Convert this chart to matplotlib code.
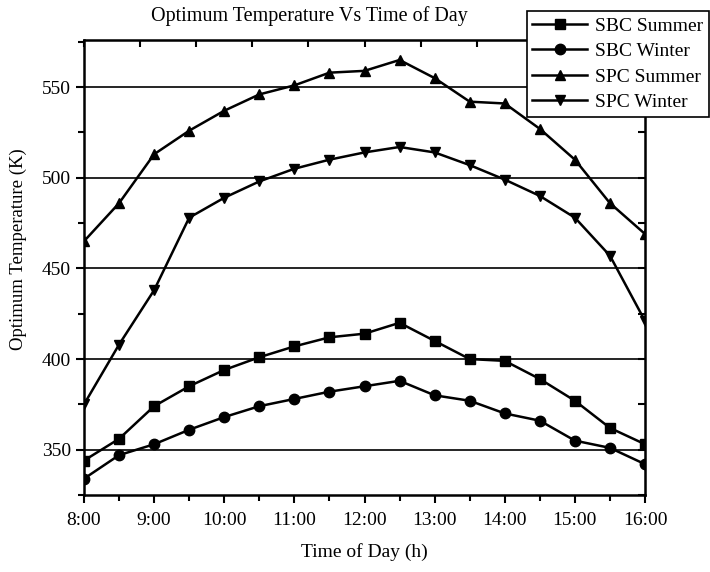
import numpy as np
import matplotlib
matplotlib.use('Agg')
import matplotlib.pyplot as plt
from matplotlib.ticker import MultipleLocator, NullFormatter

plt.rcParams['font.family'] = ['Liberation Serif', 'DejaVu Serif']

# Dados
horas = [8.0, 8.5, 9.0, 9.5, 10.0, 10.5, 11.0, 11.5, 12.0, 12.5,
         13.0, 13.5, 14.0, 14.5, 15.0, 15.5, 16.0]
rotulos_x = ['8:00', '9:00', '10:00', '11:00', '12:00', '13:00', '14:00', '15:00', '16:00']

sbc_verao = [344, 356, 374, 385, 394, 401, 407, 412, 414, 420,
             410, 400, 399, 389, 377, 362, 353]
sbc_inverno = [334, 347, 353, 361, 368, 374, 378, 382, 385, 388,
               380, 377, 370, 366, 355, 351, 342]
spc_verao = [465, 486, 513, 526, 537, 546, 551, 558, 559, 565,
             555, 542, 541, 527, 510, 486, 469]
spc_inverno = [375, 408, 438, 478, 489, 498, 505, 510, 514, 517,
               514, 507, 499, 490, 478, 457, 421]

fig = plt.figure(figsize=(7.1, 5.72), dpi=100)
ax = fig.add_axes([0.1183, 0.1346, 0.7902, 0.7954])

estilo = dict(color='black', linewidth=1.8, markersize=7.5)
ax.plot(horas, sbc_verao, marker='s', label='SBC Summer', **estilo)
ax.plot(horas, sbc_inverno, marker='o', label='SBC Winter', **estilo)
ax.plot(horas, spc_verao, marker='^', label='SPC Summer', **estilo)
ax.plot(horas, spc_inverno, marker='v', label='SPC Winter', **estilo)

ax.set_xlim(8, 16)
ax.set_ylim(325, 576)
ax.set_xticks(np.arange(8, 17, 1))
ax.set_xticklabels(rotulos_x)
ax.xaxis.set_minor_locator(MultipleLocator(0.5))
ax.set_yticks([350, 400, 450, 500, 550])
ax.yaxis.set_minor_locator(MultipleLocator(25))
ax.tick_params(which='both', direction='out', width=1.5, labelsize=14, colors='black')
ax.tick_params(which='major', length=6)
ax.tick_params(which='minor', length=4)
ax.tick_params(axis='x', pad=6)

for lado in ax.spines.values():
    lado.set_linewidth(1.8)

ax.yaxis.grid(True, color='black', linewidth=1.2)
ax.set_axisbelow(True)

# eixos de cima e da direita só com marcas
topo = ax.secondary_xaxis('top')
topo.set_xticks(np.linspace(8, 16, 11))
topo.xaxis.set_major_formatter(NullFormatter())
topo.tick_params(direction='in', length=5, width=1.5)
direita = ax.secondary_yaxis('right')
direita.set_yticks(np.arange(325, 576, 25))
direita.yaxis.set_major_formatter(NullFormatter())
direita.tick_params(direction='in', length=5, width=1.5)

ax.set_xlabel('Time of Day (h)', fontsize=14, labelpad=10)
ax.set_ylabel('Optimum Temperature (K)', fontsize=13.5)
ax.yaxis.set_label_coords(-0.102, 0.54)
fig.text(0.436, 0.972, 'Optimum Temperature Vs Time of Day', ha='center', va='center', fontsize=14.5)

leg = ax.legend(loc='upper right', bbox_to_anchor=(0.998, 0.98), bbox_transform=fig.transFigure,
                fontsize=14, fancybox=False, edgecolor='black', framealpha=1,
                borderpad=0.3, labelspacing=0.4, handlelength=2.8, handletextpad=0.4,
                borderaxespad=0)
leg.get_frame().set_linewidth(1.2)

plt.savefig('out.png', dpi=100)
